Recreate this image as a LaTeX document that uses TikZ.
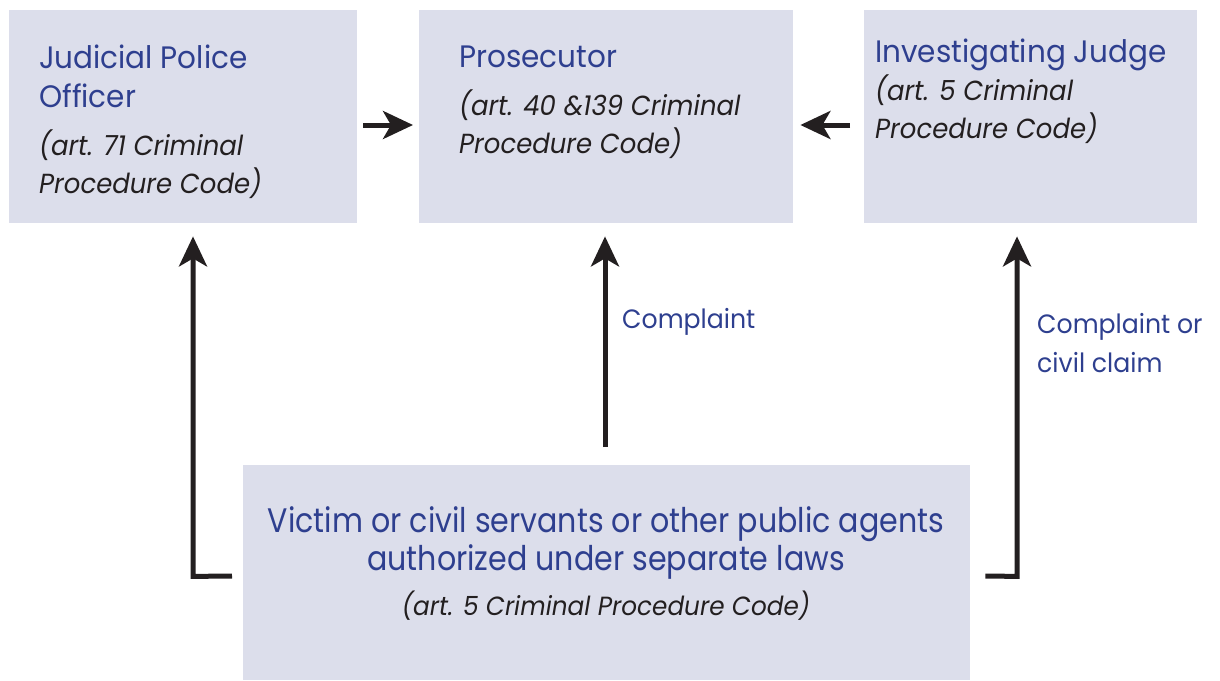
\documentclass[tikz,border=0pt]{standalone}
\usepackage{fontspec}
\setmainfont{Poppins}
\newfontfamily\titlefont[FakeStretch=0.95]{Poppins}
\newfontfamily\condfont[FakeStretch=0.885]{Poppins}
\newfontfamily\notefont[FakeStretch=0.94,ItalicFont=Poppins Italic]{Poppins}
\usetikzlibrary{arrows.meta,calc}
\definecolor{boxfill}{HTML}{DCDEEB}
\definecolor{titleblue}{HTML}{2E3F8F}
\definecolor{ink}{HTML}{231F20}
\tikzset{
  panel/.style={fill=boxfill,draw=none,inner sep=0pt,anchor=north west},
  ttl/.style={anchor=base west,inner sep=0pt,text=titleblue,font=\titlefont\fontsize{31}{39}\selectfont},
  note/.style={anchor=base west,inner sep=0pt,text=ink,font=\notefont\itshape\fontsize{27.6}{38}\selectfont},
  lbl/.style={anchor=base west,inner sep=0pt,text=titleblue,font=\titlefont\fontsize{26.5}{36}\selectfont},
  arr/.style={draw=ink,line width=5pt,line join=miter,-{Stealth[length=30pt,width=28pt,inset=8pt]}}
}
\begin{document}
\begin{tikzpicture}[x=1pt,y=-1pt]
\useasboundingbox (0,0) rectangle (1220,680);
\node[panel,minimum width=348pt,minimum height=213pt] (jpo) at (9,10) {};
\node[panel,minimum width=374pt,minimum height=213pt] (pro) at (419,10) {};
\node[panel,minimum width=333pt,minimum height=213pt] (inv) at (864,10) {};
\node[panel,minimum width=727pt,minimum height=215pt] (vic) at (243,465) {};
% texts
\node[ttl] (jpo1) at (39,68) {Judicial Police};
\node[ttl] (jpo2) at (39,107) {Officer};
\node[note] (jpo3) at (39,155) {(art. 71 Criminal};
\node[note] (jpo4) at (39,193) {Procedure Code)};
\node[ttl] (pro1) at (459,67) {Prosecutor};
\node[note] (pro2) at (459,115) {(art. 40 \&139 Criminal};
\node[note] (pro3) at (459,153) {Procedure Code)};
\node[ttl] (inv1) at (875,62) {Investigating Judge};
\node[note] (inv2) at (875,100) {(art. 5 Criminal};
\node[note] (inv3) at (875,138) {Procedure Code)};
\node[anchor=base,inner sep=0pt,text=titleblue,font=\condfont\fontsize{34}{38}\selectfont] (vic1) at (606,532) {Victim or civil servants or other public agents};
\node[anchor=base,inner sep=0pt,text=titleblue,font=\condfont\fontsize{34}{38}\selectfont] (vic2) at (606,570) {authorized under separate laws};
\node[anchor=base,inner sep=0pt,text=ink,font=\notefont\itshape\fontsize{26.3}{38}\selectfont] (vic3) at (606,615) {(art. 5 Criminal Procedure Code)};
\node[lbl] (c1) at (622,328) {Complaint};
\node[lbl] (c2) at (1037,333) {Complaint or};
\node[lbl] (c3) at (1037,372) {civil claim};
% arrows
\draw[arr] ($(jpo.north east)+(6,115)$) -- ($(pro.north west)+(-6,115)$);
\draw[arr] ($(inv.north west)+(-14,115)$) -- ($(pro.north east)+(7,115)$);
\draw[arr] ($(vic.north west)+(362,-18)$) -- ($(pro.south west)+(186,13)$);
\coordinate (lstart) at ($(vic.north west)+(-11,111)$);
\coordinate (lcorner) at ($(jpo.south west)+(184,353)$);
\draw[arr] (lstart) -- (lcorner) -- ($(jpo.south west)+(184,13)$);
\coordinate (rstart) at ($(vic.north east)+(15,111)$);
\coordinate (rcorner) at ($(inv.south west)+(153,353)$);
\draw[arr] (rstart) -- (rcorner) -- ($(inv.south west)+(153,13)$);
\end{tikzpicture}
\end{document}
